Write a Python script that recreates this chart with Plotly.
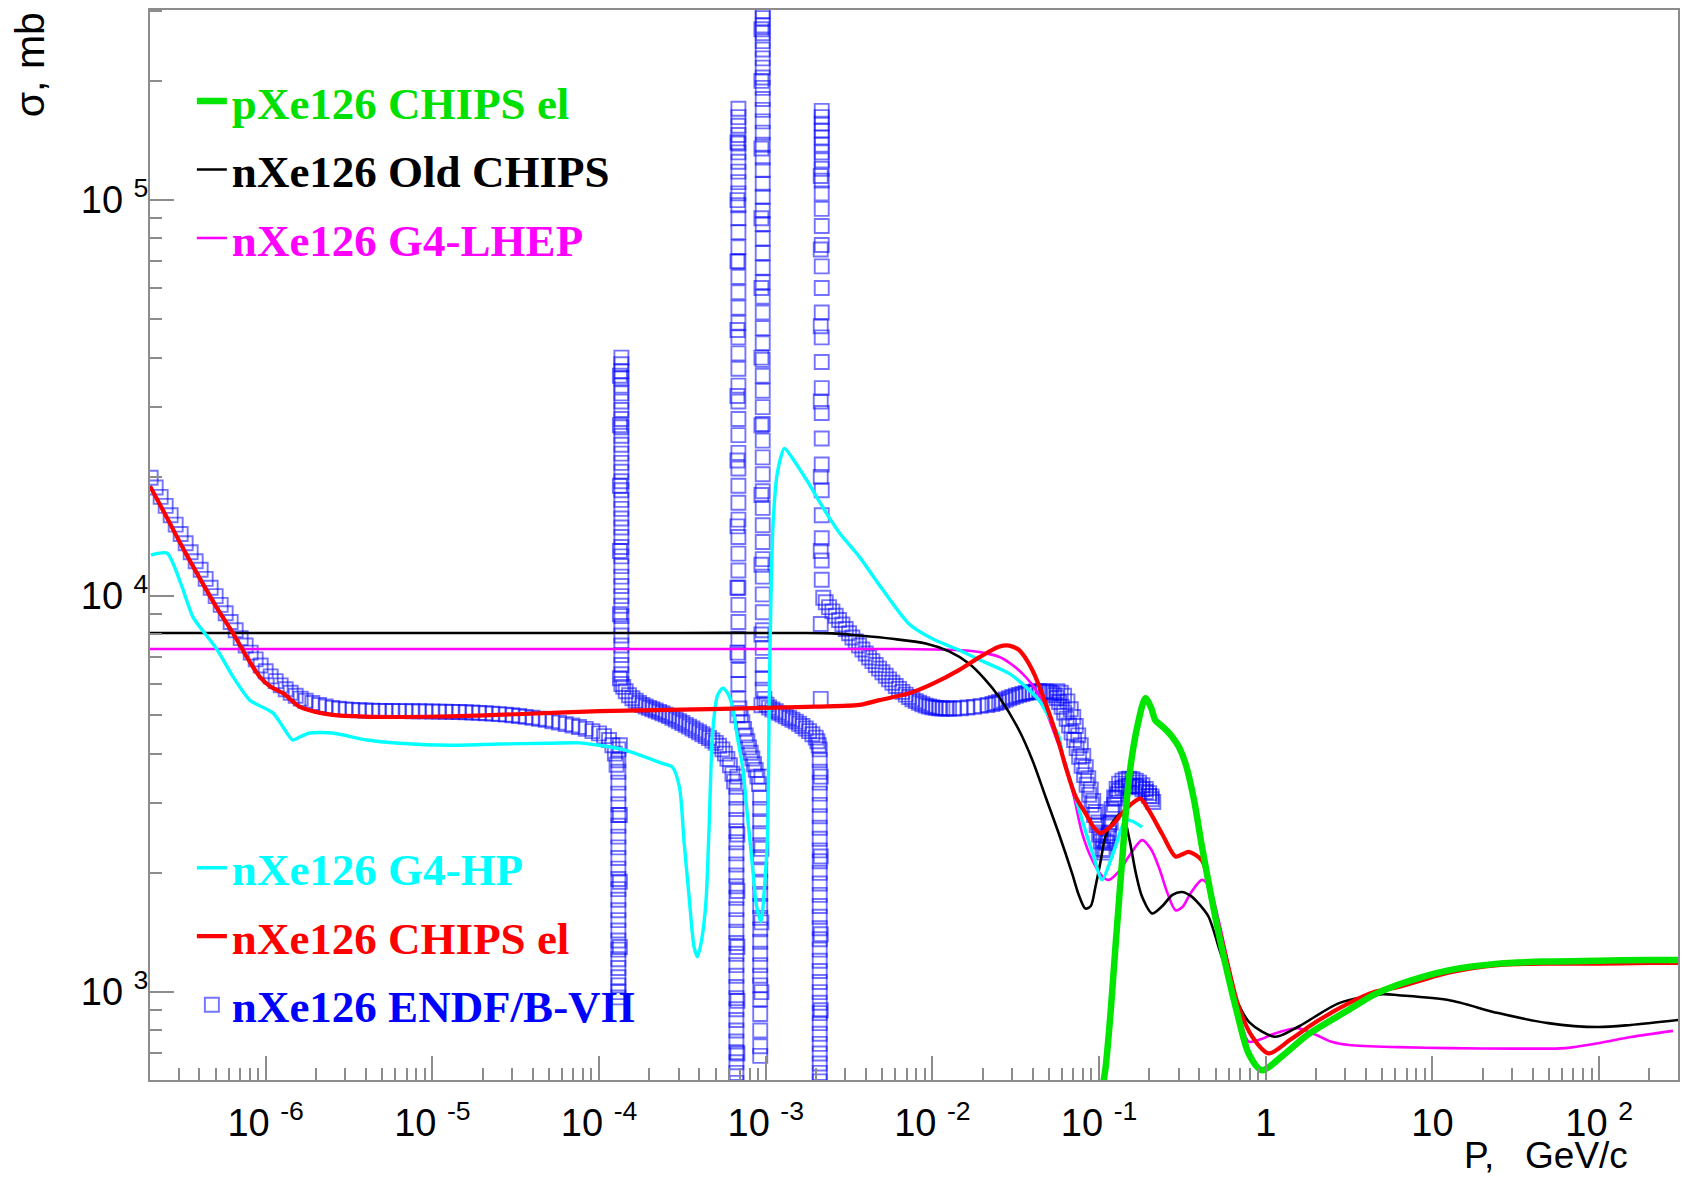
import plotly.graph_objects as go

# ---------------- data (x as log10(P [GeV/c]), y as sigma [mb]) ----------------
red_lp = [-6.694, -6.60, -6.50, -6.38, -6.29, -6.197, -6.12, -6.035, -5.97, -5.895, -5.795, -5.70,
          -5.598, -5.40, -5.196, -4.90, -4.50, -4.00, -3.50, -3.00, -2.70, -2.44, -2.32, -2.14,
          -2.00, -1.841, -1.72, -1.601, -1.54, -1.481, -1.40, -1.321, -1.241, -1.201, -1.14,
          -1.082, -1.03, -0.992, -0.93, -0.862, -0.80, -0.752, -0.702, -0.62, -0.542, -0.50,
          -0.463, -0.383, -0.303, -0.23, -0.163, -0.08, 0.017, 0.15, 0.30, 0.496, 0.65, 0.796,
          1.095, 1.395, 1.70, 1.994, 2.30, 2.475]
red_s = [18950, 16000, 13300, 10800, 9300, 8070, 7100, 6250, 5900, 5680, 5250, 5100,
         5010, 4960, 4950, 4970, 5030, 5120, 5170, 5220, 5260, 5310, 5460, 5680,
         6000, 6500, 7000, 7450, 7500, 7310, 6500, 5360, 4250, 3710, 3110,
         2830, 2600, 2520, 2620, 2830, 3000, 3080, 2880, 2500, 2200, 2230,
         2260, 2150, 1580, 1180, 918, 770, 700, 760, 840, 936, 1000, 1030,
         1120, 1170, 1180, 1180, 1185, 1185]

green_lp = [-0.985, -0.962, -0.93, -0.902, -0.86, -0.822, -0.77, -0.722, -0.69, -0.662, -0.642,
            -0.60, -0.563, -0.52, -0.482, -0.43, -0.383, -0.31, -0.243, -0.17, -0.103, -0.023,
            0.10, 0.25, 0.496, 0.65, 0.796, 1.095, 1.395, 1.70, 1.994, 2.30, 2.475]
green_s = [560, 640, 900, 1300, 2200, 3430, 4700, 5520, 5250, 4850, 4770,
           4600, 4420, 4150, 3780, 3050, 2330, 1600, 1180, 880, 700, 635,
           690, 780, 901, 985, 1045, 1135, 1180, 1195, 1200, 1205, 1205]

black_lp = [-6.694, -5.0, -3.5, -2.8, -2.6, -2.44, -2.24, -2.04, -1.90, -1.781, -1.69, -1.601,
            -1.481, -1.40, -1.321, -1.24, -1.162, -1.12, -1.082, -1.05, -1.022, -0.99, -0.962,
            -0.91, -0.862, -0.82, -0.78, -0.742, -0.682, -0.62, -0.56, -0.503, -0.45, -0.39,
            -0.343, -0.27, -0.183, -0.10, 0.057, 0.20, 0.44, 0.70, 0.796, 1.095, 1.395, 1.694,
            1.994, 2.19, 2.473]
black_s = [8070, 8070, 8070, 8070, 8050, 7950, 7800, 7590, 7250, 6760, 6200, 5570,
           4590, 3850, 3110, 2500, 1995, 1750, 1625, 1650, 1845, 2150, 2470,
           2720, 2830, 2450, 2000, 1740, 1580, 1650, 1760, 1790, 1750, 1650,
           1550, 1250, 973, 840, 771, 820, 938, 988, 982, 955, 885, 835,
           816, 826, 850]

magenta_lp = [-6.694, -3.0, -2.2, -1.90, -1.781, -1.70, -1.601, -1.52, -1.441, -1.38, -1.321,
              -1.26, -1.201, -1.15, -1.102, -1.04, -0.98, -0.942, -0.88, -0.822, -0.742, -0.69,
              -0.642, -0.59, -0.542, -0.50, -0.45, -0.383, -0.34, -0.28, -0.22, -0.16, -0.103,
              -0.03, 0.05, 0.197, 0.30, 0.40, 0.50, 0.796, 1.095, 1.5, 1.796, 1.994, 2.19, 2.443]
magenta_s = [7350, 7350, 7350, 7320, 7280, 7200, 7030, 6700, 6250, 5800, 5150,
             4400, 3780, 3100, 2520, 2150, 1960, 1920, 2020, 2200, 2420, 2300,
             2070, 1780, 1610, 1640, 1780, 1920, 1850, 1500, 1150, 880, 750,
             760, 785, 810, 780, 748, 735, 726, 722, 720, 722, 743, 770, 798]

cyan_lp = [-6.688, -6.592, -6.556, -6.50, -6.436, -6.36, -6.29, -6.20, -6.095, -5.957, -5.90,
           -5.837, -5.79, -5.735, -5.597, -5.393, -5.196, -4.90, -4.60, -4.30, -4.12, -3.86,
           -3.62, -3.56, -3.518, -3.49, -3.458, -3.43, -3.41, -3.385, -3.358, -3.34, -3.319,
           -3.29, -3.259, -3.23, -3.199, -3.17, -3.139, -3.11, -3.079, -3.055, -3.029, -3.005,
           -2.989, -2.979, -2.969, -2.955, -2.93, -2.888, -2.84, -2.75, -2.64, -2.55, -2.44,
           -2.30, -2.14, -2.00, -1.841, -1.70, -1.541, -1.45, -1.361, -1.30, -1.241, -1.222,
           -1.16, -1.102, -1.04, -0.982, -0.94, -0.902, -0.842, -0.80, -0.742]
cyan_s = [12700, 12850, 12100, 10500, 8850, 8000, 7310, 6300, 5460, 5070, 4700,
          4330, 4420, 4510, 4510, 4330, 4250, 4200, 4230, 4250, 4260, 4100,
          3780, 3700, 3300, 2400, 1706, 1300, 1228, 1350, 1706, 2600, 4500,
          5600, 5850, 5700, 5250, 4400, 3710, 2800, 2070, 1650, 1506, 1900,
          2510, 5460, 9770, 15500, 20500, 23600, 22300, 19500, 16300, 14300, 12600,
          10400, 8500, 7800, 7310, 6850, 6380, 5950, 5460, 4950, 4420, 4010,
          3300, 2720, 2250, 1920, 2100, 2330, 2720, 2700, 2610]

# ---------------- ENDF/B-VII evaluated points, read segment by segment ----------------
endf_band1_lp = [-6.69, -6.66, -6.63, -6.60, -6.57, -6.54, -6.51, -6.48, -6.45, -6.42, -6.39, -6.36,
                 -6.33, -6.30, -6.27, -6.24, -6.21, -6.18, -6.15, -6.12, -6.09, -6.06, -6.03, -6.00,
                 -5.97, -5.94, -5.91, -5.88, -5.85, -5.82, -5.79, -5.76, -5.72, -5.68, -5.64, -5.60,
                 -5.56, -5.52, -5.48, -5.44, -5.40, -5.36, -5.32, -5.28, -5.24, -5.20, -5.16, -5.12,
                 -5.08, -5.04, -5.00, -4.96, -4.92, -4.88, -4.84, -4.80, -4.76, -4.72, -4.68, -4.64,
                 -4.60, -4.56, -4.52, -4.48, -4.44, -4.40, -4.36, -4.32, -4.28, -4.24, -4.20, -4.16,
                 -4.12, -4.08, -4.04, -4.00, -3.97, -3.94, -3.92, -3.905, -3.895]
endf_band1_s = [19900, 18800, 17800, 16900, 16000, 15150, 14350, 13600, 12900, 12250, 11650, 11050,
                10500, 10000, 9500, 9050, 8600, 8200, 7830, 7500, 7200, 6920, 6680, 6460,
                6270, 6100, 5950, 5820, 5700, 5600, 5510, 5440, 5370, 5310, 5260, 5220,
                5195, 5175, 5160, 5150, 5140, 5135, 5130, 5128, 5126, 5124, 5122, 5120,
                5118, 5115, 5112, 5108, 5104, 5100, 5095, 5090, 5082, 5072, 5060, 5048,
                5035, 5020, 5000, 4980, 4955, 4930, 4900, 4870, 4830, 4790, 4750, 4710,
                4670, 4620, 4560, 4500, 4430, 4330, 4200, 4000, 3750]
endf_r1_left_lp = -3.884
endf_r1_left_s = [4100, 3850, 3600, 3380, 3170, 2980, 2800, 2630, 2470, 2320, 2180, 2050, 1930,
                  1820, 1710, 1610, 1520, 1430, 1350, 1280, 1210, 1150, 1090, 1040, 1000, 970]
endf_r1_rise_lp = -3.875
endf_r1_rise_s = [1300, 1900, 2800, 4200, 6200, 9000, 13000, 19000, 27000, 36000]
endf_r1_fall_lp = -3.866
endf_r1_fall_s = [40000, 38500, 37000, 35500, 34000, 32500, 31000, 29500, 28000, 26700, 25400,
                  24100, 22900, 21700, 20600, 19500, 18500, 17500, 16600, 15700, 14900, 14100,
                  13300, 12600, 11900, 11200, 10600, 10000, 9450, 8900, 8400, 7950, 7500, 7100,
                  6700, 6350, 6000]
endf_band2_lp = [-3.855, -3.84, -3.82, -3.80, -3.78, -3.76, -3.74, -3.72, -3.70, -3.68, -3.66,
                 -3.64, -3.62, -3.60, -3.58, -3.56, -3.54, -3.52, -3.50, -3.48, -3.46, -3.44,
                 -3.42, -3.40, -3.38, -3.36, -3.34, -3.32, -3.30, -3.28, -3.26, -3.245, -3.23,
                 -3.215, -3.20, -3.19]
endf_band2_s = [5900, 5750, 5620, 5520, 5440, 5370, 5310, 5260, 5220, 5180, 5140,
                5100, 5060, 5020, 4980, 4930, 4880, 4830, 4780, 4730, 4680, 4630,
                4580, 4530, 4480, 4430, 4380, 4320, 4260, 4190, 4100, 4000, 3880,
                3740, 3560, 3400]
endf_r2_left_lp = -3.176
endf_r2_left_s = [3300, 3100, 2900, 2720, 2550, 2390, 2240, 2100, 1970, 1850, 1730, 1620, 1520,
                  1420, 1330, 1250, 1170, 1100, 1030, 965, 905, 850, 800, 750, 705, 665, 625, 590]
endf_r2_rise_lp = -3.170
endf_r2_rise_s = [700, 950, 1300, 1800, 2500, 3500, 5000, 7200, 10500, 15000, 22000, 32000,
                  47000, 70000, 100000, 140000]
endf_r2_fall_lp = -3.164
endf_r2_fall_s = [170000, 162000, 154000, 146000, 139000, 132000, 125000, 118000, 111000, 104000,
                  97000, 90000, 83000, 76000, 70000, 64000, 58500, 53500, 49000, 45000, 41000,
                  37500, 34000, 31000, 28000, 25500, 23000, 21000, 19000, 17200, 15600, 14100,
                  12800, 11600, 10500, 9500, 8600, 7800, 7100, 6500, 6000, 5500]
endf_band3_lp = [-3.158, -3.15, -3.14, -3.13, -3.12, -3.11, -3.10, -3.09, -3.08, -3.07, -3.06,
                 -3.05, -3.04]
endf_band3_s = [5200, 5000, 4800, 4620, 4450, 4300, 4150, 4020, 3890, 3760, 3640, 3500, 3350]
endf_r3_left_lp = -3.033
endf_r3_left_s = [3100, 2900, 2700, 2520, 2350, 2190, 2040, 1900, 1770, 1650, 1540, 1440, 1340,
                  1250, 1170, 1100, 1040, 960, 880, 800, 730, 690]
endf_r3_rise_lp = -3.026
endf_r3_rise_s = [1000, 1500, 2300, 3500, 5300, 8000, 12000, 18000, 27000, 40000, 60000, 90000,
                  135000, 200000, 270000]
endf_r3_fall_lp = -3.018
endf_r3_fall_s = [300000, 288000, 276000, 264000, 252000, 240000, 228000, 216000, 204000, 192000,
                  180000, 169000, 158000, 148000, 138000, 128000, 119000, 110000, 102000, 94000,
                  87000, 80000, 73500, 67500, 62000, 57000, 52000, 47500, 43500, 39500, 36000,
                  33000, 30000, 27200, 24700, 22400, 20300, 18400, 16700, 15100, 13700, 12400,
                  11200, 10100, 9100, 8200, 7400, 6700, 6200, 5800]
endf_band4_lp = [-3.008, -2.995, -2.98, -2.96, -2.94, -2.92, -2.90, -2.88, -2.86, -2.84, -2.82,
                 -2.80, -2.78, -2.76, -2.74, -2.72, -2.70, -2.69, -2.682]
endf_band4_s = [5500, 5320, 5230, 5170, 5120, 5070, 5020, 4970, 4920, 4870, 4820,
                4760, 4700, 4630, 4560, 4480, 4390, 4300, 4200]
endf_r4_left_lp = -2.676
endf_r4_left_s = [4100, 3850, 3600, 3380, 3170, 2970, 2780, 2600, 2440, 2280, 2140, 2000, 1880,
                  1760, 1650, 1550, 1450, 1360, 1280, 1200, 1130, 1060, 1000, 940, 885, 835, 785,
                  740, 700, 660, 625, 595]
endf_r4_rise_lp = -2.670
endf_r4_rise_s = [900, 1400, 2200, 3500, 5500, 8500, 13000, 20000, 31000, 48000, 75000, 115000]
endf_r4_fall_lp = -2.664
endf_r4_fall_s = [168000, 162000, 156000, 150000, 144000, 138000, 132000, 126000, 120000, 112000,
                  104000, 95000, 86000, 77000, 68000, 60000, 52000, 45000, 39000, 33500, 29000,
                  25000, 21500, 18500, 16000, 14000, 12300, 11000]
endf_band5_lp = [-2.655, -2.64, -2.62, -2.60, -2.58, -2.56, -2.54, -2.52, -2.50, -2.48, -2.46,
                 -2.44, -2.42, -2.40, -2.38, -2.36, -2.34, -2.32, -2.30, -2.28, -2.26, -2.24,
                 -2.22, -2.20, -2.18, -2.16, -2.14, -2.12, -2.10, -2.08, -2.06, -2.04, -2.02,
                 -2.00, -1.98, -1.96, -1.94, -1.92, -1.90, -1.87, -1.83, -1.79, -1.75, -1.71,
                 -1.67, -1.64, -1.62, -1.60, -1.58, -1.56, -1.54, -1.52, -1.50, -1.48, -1.46,
                 -1.44, -1.42, -1.40, -1.38, -1.36, -1.34, -1.32, -1.30, -1.285, -1.27, -1.255,
                 -1.24, -1.225, -1.21, -1.195, -1.18, -1.165, -1.15, -1.135, -1.12, -1.105, -1.09,
                 -1.075, -1.06, -1.045, -1.03, -1.015, -1.00, -0.99, -0.98, -0.97, -0.96, -0.95,
                 -0.94, -0.93, -0.92, -0.91, -0.90, -0.89, -0.88, -0.86, -0.84, -0.82, -0.80,
                 -0.78, -0.76, -0.74, -0.72, -0.70, -0.685, -0.675]
endf_band5_s = [9900, 9650, 9380, 9150, 8920, 8700, 8480, 8260, 8060, 7860, 7680,
                7500, 7330, 7160, 7000, 6850, 6700, 6560, 6420, 6290, 6160, 6040,
                5930, 5830, 5730, 5640, 5560, 5490, 5430, 5380, 5330, 5290, 5260,
                5240, 5220, 5210, 5200, 5200, 5200, 5200, 5210, 5230, 5250, 5280,
                5310, 5340, 5370, 5400, 5440, 5480, 5520, 5560, 5600, 5630, 5660,
                5690, 5710, 5730, 5745, 5750, 5750, 5740, 5720, 5680, 5620, 5530,
                5400, 5250, 5080, 4900, 4710, 4520, 4330, 4130, 3930, 3730, 3530,
                3340, 3150, 2970, 2800, 2640, 2500, 2400, 2300, 2250, 2280, 2380,
                2520, 2680, 2840, 2970, 3080, 3160, 3220, 3280, 3310, 3320, 3320,
                3310, 3290, 3250, 3200, 3130, 3070, 3020]
endf_band5b_lp = [-1.25, -1.23, -1.21, -1.19, -1.17, -1.155, -1.14, -1.125, -1.11, -1.095, -1.08,
                  -1.065, -1.05, -1.035, -1.02, -1.005, -0.99, -0.975, -0.96, -0.95, -0.94, -0.925,
                  -0.91, -0.895, -0.88, -0.86, -0.84, -0.82, -0.80, -0.78, -0.76, -0.74, -0.72,
                  -0.70, -0.685]
endf_band5b_s = [5750, 5700, 5600, 5420, 5180, 4950, 4700, 4450, 4200, 3950, 3700,
                 3470, 3250, 3040, 2850, 2680, 2530, 2420, 2400, 2480, 2650, 2900,
                 3100, 3260, 3360, 3420, 3450, 3460, 3450, 3420, 3380, 3330, 3260,
                 3180, 3120]

x_tick_vals = [1e-6, 1e-5, 1e-4, 1e-3, 1e-2, 1e-1, 1, 10, 100]
x_tick_text = ["10\u00a0<sup>-6</sup>", "10\u00a0<sup>-5</sup>", "10\u00a0<sup>-4</sup>",
               "10\u00a0<sup>-3</sup>", "10\u00a0<sup>-2</sup>", "10\u00a0<sup>-1</sup>",
               "1", "10", "10\u00a0<sup>2</sup>"]
y_tick_vals = [1e3, 1e4, 1e5]
y_tick_text = ["10\u00a0<sup>3</sup>", "10\u00a0<sup>4</sup>", "10\u00a0<sup>5</sup>"]

# ---------------- build ----------------
def to_p(lps):
    return [10 ** v for v in lps]

segments = [
    (endf_band1_lp, endf_band1_s),
    (endf_r1_left_lp, endf_r1_left_s), (endf_r1_rise_lp, endf_r1_rise_s),
    (endf_r1_fall_lp, endf_r1_fall_s), (endf_band2_lp, endf_band2_s),
    (endf_r2_left_lp, endf_r2_left_s), (endf_r2_rise_lp, endf_r2_rise_s),
    (endf_r2_fall_lp, endf_r2_fall_s), (endf_band3_lp, endf_band3_s),
    (endf_r3_left_lp, endf_r3_left_s), (endf_r3_rise_lp, endf_r3_rise_s),
    (endf_r3_fall_lp, endf_r3_fall_s), (endf_band4_lp, endf_band4_s),
    (endf_r4_left_lp, endf_r4_left_s), (endf_r4_rise_lp, endf_r4_rise_s),
    (endf_r4_fall_lp, endf_r4_fall_s), (endf_band5_lp, endf_band5_s),
    (endf_band5b_lp, endf_band5b_s),
]
endf_x, endf_y = [], []
for lp, s in segments:
    if isinstance(lp, list):
        endf_x += to_p(lp)
    else:
        endf_x += [10 ** lp] * len(s)
    endf_y += s

def lab(txt, color):
    return f'<span style="color:{color}"><b>{txt}</b></span>'

endf_color = "rgba(0,0,255,0.55)"

fig = go.Figure()
fig.add_trace(go.Scatter(x=endf_x, y=endf_y, mode="markers",
                         marker=dict(symbol="square-open", size=14, color=endf_color,
                                     line=dict(width=1.9, color=endf_color)),
                         name=lab("nXe126 ENDF/B-VII", "#0000ff"), legend="legend2",
                         legendgroup="g6", legendrank=3))
fig.add_trace(go.Scatter(x=to_p(magenta_lp), y=magenta_s, mode="lines",
                         line=dict(color="#ff00ff", width=2.6, shape="spline", smoothing=0.8),
                         name=lab("nXe126 G4-LHEP", "#ff00ff"), legend="legend",
                         legendgroup="g3", legendrank=3))
fig.add_trace(go.Scatter(x=to_p(black_lp), y=black_s, mode="lines",
                         line=dict(color="#000000", width=2.6, shape="spline", smoothing=0.8),
                         name=lab("nXe126 Old CHIPS", "#000000"), legend="legend",
                         legendgroup="g2", legendrank=2))
fig.add_trace(go.Scatter(x=to_p(cyan_lp), y=cyan_s, mode="lines",
                         line=dict(color="#00ffff", width=3.4, shape="spline", smoothing=0.7),
                         name=lab("nXe126 G4-HP", "#00ffff"), legend="legend2",
                         legendgroup="g4", legendrank=1))
fig.add_trace(go.Scatter(x=to_p(red_lp), y=red_s, mode="lines",
                         line=dict(color="#ff0000", width=4.2, shape="spline", smoothing=0.8),
                         name=lab("nXe126 CHIPS el", "#ff0000"), legend="legend2",
                         legendgroup="g5", legendrank=2))
fig.add_trace(go.Scatter(x=to_p(green_lp), y=green_s, mode="lines",
                         line=dict(color="#00e600", width=6.5, shape="spline", smoothing=0.8),
                         name=lab("pXe126 CHIPS el", "#00e000"), legend="legend",
                         legendgroup="g1", legendrank=1))

x_minor = [k * 10.0 ** n for n in range(-7, 3) for k in range(2, 10)]
y_minor = [k * 10.0 ** n for n in range(2, 6) for k in range(2, 10)]

axis_gray = "#8c8c8c"
legend_font = dict(family="Liberation Serif", size=45)

fig.update_layout(
    width=1682, height=1179,
    margin=dict(l=150, r=2, t=10, b=99),
    paper_bgcolor="white", plot_bgcolor="white",
    xaxis=dict(type="log", range=[-6.694, 2.473], tickmode="array",
               tickvals=x_tick_vals, ticktext=x_tick_text,
               ticks="inside", ticklen=24, tickwidth=1.5, tickcolor=axis_gray,
               showline=True, linecolor=axis_gray, linewidth=2, mirror=True,
               showgrid=False, zeroline=False, ticklabelstandoff=8,
               tickfont=dict(family="Liberation Sans", size=38, color="black"),
               minor=dict(tickmode="array", tickvals=x_minor, ticks="inside", ticklen=12,
                          tickwidth=1.5, tickcolor=axis_gray, showgrid=False)),
    yaxis=dict(type="log", range=[2.778, 5.48], tickmode="array",
               tickvals=y_tick_vals, ticktext=y_tick_text,
               ticks="inside", ticklen=24, tickwidth=1.5, tickcolor=axis_gray,
               showline=True, linecolor=axis_gray, linewidth=2, mirror=True,
               showgrid=False, zeroline=False, ticklabelstandoff=-8,
               tickfont=dict(family="Liberation Sans", size=38, color="black"),
               minor=dict(tickmode="array", tickvals=y_minor, ticks="inside", ticklen=12,
                          tickwidth=1.5, tickcolor=axis_gray, showgrid=False)),
    legend=dict(x=0.0274, y=0.9483, xanchor="left", yanchor="top", bgcolor="rgba(0,0,0,0)",
                font=legend_font, traceorder="grouped", tracegroupgap=7),
    legend2=dict(x=0.0274, y=0.2318, xanchor="left", yanchor="top", bgcolor="rgba(0,0,0,0)",
                 font=legend_font, traceorder="grouped", tracegroupgap=7),
    showlegend=True,
    annotations=[
        dict(text="σ, mb", xref="paper", yref="paper", x=-0.0784, y=0.9486,
             xanchor="center", yanchor="middle", textangle=-90, showarrow=False,
             font=dict(family="Liberation Sans", size=41, color="black")),
        dict(text="P,\u00a0\u00a0 GeV/c", xref="paper", yref="paper", x=0.9135, y=-0.0916,
             xanchor="center", yanchor="bottom", showarrow=False,
             font=dict(family="Liberation Sans", size=37, color="black")),
    ],
)

fig.write_html("out.html")
